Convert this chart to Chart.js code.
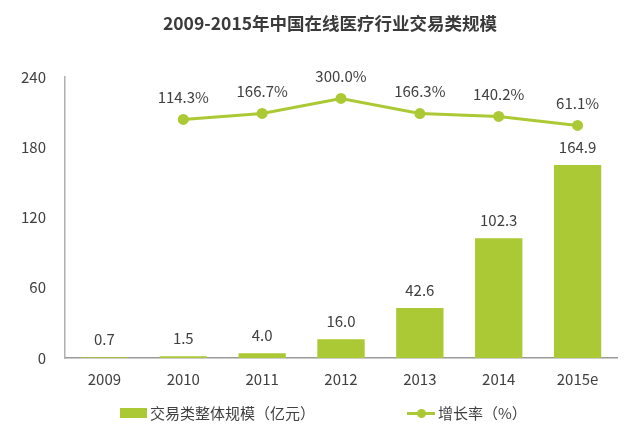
<!DOCTYPE html>
<html lang="zh">
<head>
    <meta charset="UTF-8">
    <title>2009-2015年中国在线医疗行业交易类规模</title>
    <script src="https://cdn.jsdelivr.net/npm/chart.js"></script>
    <style>
        body {
            margin: 0;
            padding: 0;
            background: #fff;
            font-family: "Noto Sans CJK SC", "Noto Sans", sans-serif;
        }

        .wrap {
            position: relative;
            width: 640px;
            height: 436px;
        }

        #title {
            position: absolute;
            left: 20px;
            top: 10px;
            width: 620px;
            text-align: center;
            font-size: 17.5px;
            font-weight: bold;
            line-height: 26px;
            color: #3a3a3a;
        }

        #legend {
            position: absolute;
            left: 0;
            top: 402px;
            width: 640px;
            height: 22px;
            font-size: 15px;
            color: #404040;
        }

        .item {
            position: absolute;
            top: 0;
            height: 22px;
            line-height: 22px;
            white-space: nowrap;
        }

        .swatch {
            position: absolute;
            top: 6px;
        }
    </style>
</head>
<body>
    <div class="wrap">
        <canvas id="chart" width="640" height="436"></canvas>
        <div id="title"></div>
        <div id="legend"></div>
    </div>

    <script>
        const chartTitle = '2009-2015年中国在线医疗行业交易类规模';
        const years = ['2009', '2010', '2011', '2012', '2013', '2014', '2015e'];
        const scaleValues = [0.7, 1.5, 4.0, 16.0, 42.6, 102.3, 164.9];
        const growthValues = [null, 114.3, 166.7, 300.0, 166.3, 140.2, 61.1];
        const yTicks = [0, 60, 120, 180, 240];
        const seriesNames = ['交易类整体规模（亿元）', '增长率（%）'];

        const green = '#abc934';
        const textColor = '#404040';
        const fontFamily = '"Noto Sans CJK SC", "Noto Sans", sans-serif';

        document.getElementById('title').textContent = chartTitle;

        // value labels above bars and points
        const valueLabels = {
            id: 'valueLabels',
            afterDatasetsDraw(chart) {
                const ctx = chart.ctx;
                ctx.save();
                ctx.font = '15px ' + fontFamily;
                ctx.fillStyle = textColor;
                ctx.textAlign = 'center';
                ctx.textBaseline = 'middle';

                chart.getDatasetMeta(0).data.forEach((bar, i) => {
                    ctx.fillText(scaleValues[i].toFixed(1), bar.x, bar.y - 18);
                });
                chart.getDatasetMeta(1).data.forEach((pt, i) => {
                    if (growthValues[i] == null) return;
                    ctx.fillText(growthValues[i].toFixed(1) + '%', pt.x, pt.y - 22);
                });
                ctx.restore();
            }
        };

        new Chart(document.getElementById('chart'), {
            data: {
                labels: years,
                datasets: [{
                    type: 'bar',
                    label: seriesNames[0],
                    data: scaleValues,
                    backgroundColor: green,
                    categoryPercentage: 1,
                    barPercentage: 0.6,
                    yAxisID: 'y',
                    order: 2
                }, {
                    type: 'line',
                    label: seriesNames[1],
                    data: growthValues,
                    borderColor: green,
                    backgroundColor: green,
                    borderWidth: 3,
                    pointRadius: 4,
                    pointHoverRadius: 4,
                    tension: 0,
                    yAxisID: 'y1',
                    order: 1
                }]
            },
            options: {
                responsive: false,
                animation: false,
                layout: {
                    padding: { left: 0, right: 23, top: 77, bottom: 36 }
                },
                plugins: {
                    legend: { display: false },
                    tooltip: { enabled: false }
                },
                scales: {
                    x: {
                        grid: { display: false, drawTicks: false },
                        border: { color: '#9a9a9a', width: 1.5 },
                        ticks: {
                            color: textColor,
                            padding: 12,
                            font: { family: fontFamily, size: 15 }
                        }
                    },
                    y: {
                        min: 0,
                        max: 240,
                        afterFit(scale) { scale.width = 65; },
                        afterBuildTicks(scale) { scale.ticks = yTicks.map(v => ({ value: v })); },
                        grid: { display: false, drawTicks: false },
                        border: { color: '#b0b0b0', width: 1.5 },
                        ticks: {
                            color: textColor,
                            padding: 19,
                            font: { family: fontFamily, size: 15 }
                        }
                    },
                    y1: {
                        display: false,
                        min: -2000,
                        max: 490
                    }
                }
            },
            plugins: [valueLabels]
        });

        // legend below the chart
        const legend = document.getElementById('legend');
        legend.innerHTML =
            '<div class="item" style="left:120px;">' +
            '<span class="swatch" style="left:0;width:27px;height:10px;background:' + green + ';"></span>' +
            '<span style="margin-left:30px;">' + seriesNames[0] + '</span></div>' +
            '<div class="item" style="left:407px;">' +
            '<span class="swatch" style="left:0;top:10px;width:28px;height:3px;background:' + green + ';"></span>' +
            '<span class="swatch" style="left:10px;top:7px;width:9px;height:9px;border-radius:50%;background:' + green + ';"></span>' +
            '<span style="margin-left:31px;">' + seriesNames[1] + '</span></div>';
    </script>
</body>
</html>
